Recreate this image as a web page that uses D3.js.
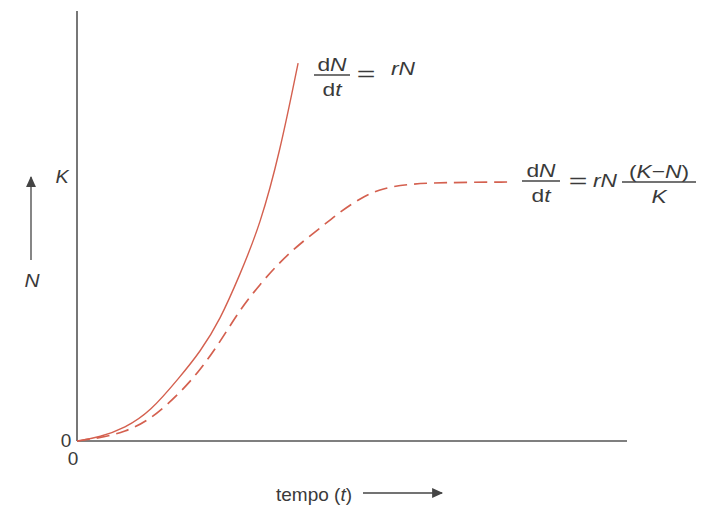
<!DOCTYPE html>
<html>
<head>
<meta charset="utf-8">
<script src="https://cdn.jsdelivr.net/npm/d3@7"></script>
<style>
  body { margin: 0; background: #fff; }
  text { font-family: "Liberation Sans", Arial, sans-serif; fill: #3a3a3a; }
  .it { font-style: italic; }
</style>
</head>
<body>
<script>
"use strict";

// time values (t) and population values (N), with K = 100
const expT = [0, 0.42, 0.87, 1.33, 1.87, 2.24, 2.6, 2.96, 3.33, 3.69, 4.02];
const expN = [0, 1.5, 5.0, 11.2, 24.7, 34.4, 46.7, 64.1, 83.4, 111.6, 145.9];
const logT = [0, 0.42, 0.87, 1.33, 1.87, 2.24, 2.6, 2.96, 3.33, 3.69, 4.05, 4.42, 4.78, 5.15, 5.56, 6.05, 6.6, 7.93];
const logN = [0, 1.2, 3.5, 8.1, 18.5, 27.4, 38.2, 50.6, 60.6, 69.1, 76.1, 82.2, 88.4, 93.8, 97.7, 99.2, 99.8, 100];
const K = 100;

const wSvg = 717, hSvg = 519;
const curveColor = "#d4604f", axisColor = "#555", inkColor = "#444";

const xScale = d3.scaleLinear().domain([0, 10]).range([77, 627]);
const yScale = d3.scaleLinear().domain([0, 166]).range([441, 11]);

const svg = d3.select("body").append("svg")
    .attr("width", wSvg).attr("height", hSvg);

svg.append("defs").append("marker").attr("id", "tri")
    .attr("viewBox", "0 0 10 10").attr("refX", 9).attr("refY", 5)
    .attr("markerUnits", "userSpaceOnUse")
    .attr("markerWidth", 12).attr("markerHeight", 11).attr("orient", "auto")
    .append("path").attr("d", "M0,0.5 L10,5 L0,9.5 Z").attr("fill", inkColor);

// axes
svg.append("line")
    .attr("x1", xScale(0)).attr("x2", xScale(0))
    .attr("y1", yScale(166)).attr("y2", yScale(0))
    .attr("stroke", axisColor).attr("stroke-width", 1.6);
svg.append("line")
    .attr("x1", xScale(0)).attr("x2", xScale(10))
    .attr("y1", yScale(0)).attr("y2", yScale(0))
    .attr("stroke", axisColor).attr("stroke-width", 1.6);

// curves
const line = d3.line()
    .x(d => xScale(d[0])).y(d => yScale(d[1]))
    .curve(d3.curveBasis);

svg.append("path")
    .datum(d3.zip(expT, expN))
    .attr("d", line)
    .attr("fill", "none").attr("stroke", curveColor).attr("stroke-width", 1.4);

svg.append("path")
    .datum(d3.zip(logT, logN))
    .attr("d", line)
    .attr("fill", "none").attr("stroke", curveColor).attr("stroke-width", 1.7)
    .attr("stroke-dasharray", "13,7");

// small text helper, sx stretches horizontally
function label(g, x, y, html, size, sx, cls) {
    return g.append("text")
        .attr("class", cls || null)
        .attr("transform", `translate(${x},${y}) scale(${sx},1)`)
        .attr("font-size", size)
        .attr("text-anchor", "middle")
        .html(html);
}

// axis labels
label(svg, 66, 447, "0", 19, 1);
label(svg, 73, 465, "0", 19, 1);
label(svg, 62, 183, "K", 18, 1.1, "it");
label(svg, 32, 287, "N", 19, 1.1, "it");

// N arrow
svg.append("line")
    .attr("x1", 31).attr("x2", 31).attr("y1", 260).attr("y2", 177)
    .attr("stroke", inkColor).attr("stroke-width", 1.3)
    .attr("marker-end", "url(#tri)");

// tempo label + arrow
label(svg, 314, 501, 'tempo (<tspan class="it">t</tspan>)', 19, 1);
svg.append("line")
    .attr("x1", 363).attr("x2", 442).attr("y1", 493).attr("y2", 493)
    .attr("stroke", inkColor).attr("stroke-width", 1.3)
    .attr("marker-end", "url(#tri)");

// fraction helper
function fraction(g, cx, yLine, num, den, w) {
    label(g, cx, yLine - 4, num, 19, 1.2);
    g.append("line").attr("x1", cx - w / 2).attr("x2", cx + w / 2)
        .attr("y1", yLine).attr("y2", yLine)
        .attr("stroke", inkColor).attr("stroke-width", 1.3);
    label(g, cx, yLine + 21, den, 19, 1.2);
}

// equation 1
const eq1 = svg.append("g");
fraction(eq1, 332, 75, 'd<tspan class="it">N</tspan>', 'd<tspan class="it">t</tspan>', 36);
label(eq1, 366, 81, "=", 20, 1.6);
label(eq1, 403, 75, "rN", 19, 1.2, "it");

// equation 2
const eq2 = svg.append("g");
fraction(eq2, 541, 181, 'd<tspan class="it">N</tspan>', 'd<tspan class="it">t</tspan>', 38);
label(eq2, 578, 188, "=", 20, 1.6);
label(eq2, 605, 187, "rN", 19, 1.2, "it");
fraction(eq2, 659, 182, '(<tspan class="it">K</tspan>−<tspan class="it">N</tspan>)', '<tspan class="it">K</tspan>', 74);
</script>
</body>
</html>
